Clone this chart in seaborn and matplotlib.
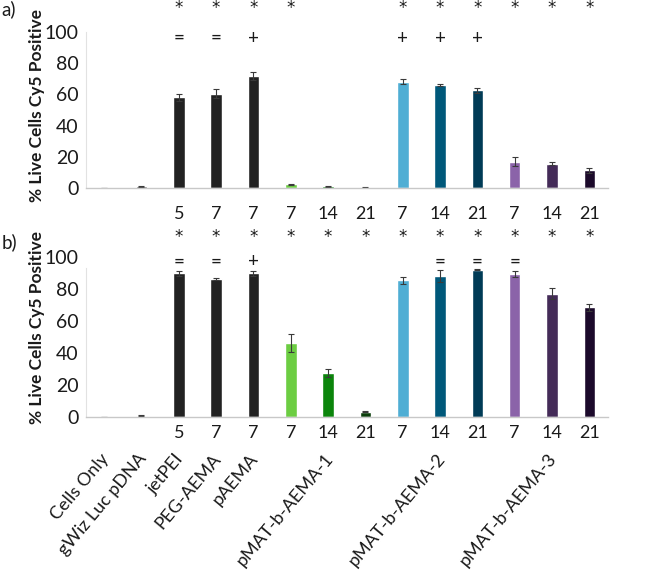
import matplotlib
matplotlib.use("Agg")
import matplotlib.pyplot as plt
import matplotlib.transforms as mtransforms
import seaborn as sns
import pandas as pd
import numpy as np

# ---------------- data ----------------
samples = ["Cells Only", "gWiz Luc pDNA", "jetPEI", "PEG-AEMA", "pAEMA",
           "pMAT1-7", "pMAT1-14", "pMAT1-21",
           "pMAT2-7", "pMAT2-14", "pMAT2-21",
           "pMAT3-7", "pMAT3-14", "pMAT3-21"]
day_labels = ["", "", "5", "7", "7", "7", "14", "21", "7", "14", "21", "7", "14", "21"]
group_labels = ["Cells Only", "gWiz Luc pDNA", "jetPEI", "PEG-AEMA", "pAEMA",
                "", "pMAT-b-AEMA-1", "", "", "pMAT-b-AEMA-2", "", "", "pMAT-b-AEMA-3", ""]

values_a = [0.0, 1.2, 58.0, 60.5, 71.5, 2.5, 1.2, 0.4, 68.0, 66.0, 62.5, 17.0, 15.8, 11.5]
errors_a = [0.0, 0.4, 2.0, 3.0, 2.5, 0.5, 0.3, 0.2, 1.7, 0.8, 1.5, 3.0, 0.7, 1.7]
values_b = [0.0, 0.5, 89.6, 86.1, 89.6, 46.0, 27.3, 3.0, 85.2, 88.0, 91.9, 89.2, 76.9, 68.4]
errors_b = [0.0, 0.3, 1.7, 0.5, 1.7, 5.6, 2.3, 0.3, 2.0, 3.7, 0.3, 1.7, 3.4, 2.1]

stars_a = ["", "", "*", "*", "*", "*", "", "", "*", "*", "*", "*", "*", "*"]
signs_a = ["", "", "=", "=", "+", "", "", "", "+", "+", "+", "", "", ""]
stars_b = ["", "", "*", "*", "*", "*", "*", "*", "*", "*", "*", "*", "*", "*"]
signs_b = ["", "", "=", "=", "+", "", "", "", "", "=", "=", "=", "", ""]

colors = ["#7f7f7f", "#595959", "#222222", "#222222", "#222222",
          "#6ccd42", "#0b850b", "#0b3e0b",
          "#4faed4", "#00587a", "#003b56",
          "#8b63a9", "#442b58", "#1c0a2b"]

ylabel = "% Live Cells Cy5 Positive"

# ---------------- style ----------------
sns.set_theme(style="white")
plt.rcParams["font.family"] = ["Lato", "DejaVu Sans"]

W, H = 668, 571
fig = plt.figure(figsize=(W / 100, H / 100), dpi=100)

left = 85.5 / W
width = (608 - 85.5) / W
ax_a = fig.add_axes([left, 1 - 188.3 / H, width, (188.3 - 31.7) / H])
ax_b = fig.add_axes([left, 1 - 416.7 / H, width, 160.0 / H])

TXT = "#1a1a1a"


def draw(ax, values, errors, stars, signs, star_y, sign_y, spine_top, num_pad):
    df = pd.DataFrame({"sample": samples, "value": values})
    sns.barplot(data=df, x="sample", y="value", hue="sample", order=samples,
                hue_order=samples, palette=colors, legend=False, width=0.31,
                ax=ax, saturation=1, errorbar=None)
    xs = np.arange(len(samples))
    ax.errorbar(xs, values, yerr=errors, fmt="none", ecolor="#3a3a3a",
                elinewidth=0.8, capsize=2.2, capthick=0.8)
    ax.set_xlim(-0.5, len(samples) - 0.5)
    ax.set_ylim(0, 100)
    ax.set_yticks([0, 20, 40, 60, 80, 100])
    ax.tick_params(axis="y", labelsize=14, length=0, pad=5, labelcolor=TXT)
    ax.set_xticks(xs)
    ax.set_xticklabels(day_labels)
    ax.tick_params(axis="x", labelsize=13, length=0, pad=num_pad, labelcolor=TXT)
    ax.set_xlabel("")
    ax.set_ylabel("")
    for s in ["top", "right"]:
        ax.spines[s].set_visible(False)
    ax.spines["bottom"].set_color("#c8c8c8")
    ax.spines["bottom"].set_linewidth(1.0)
    ax.spines["left"].set_color("#e2e2e2")
    ax.spines["left"].set_linewidth(0.8)
    ax.spines["left"].set_bounds(0, spine_top)
    for i in xs:
        if stars[i]:
            ax.text(i, star_y, stars[i], ha="center", va="center", fontsize=12,
                    color=TXT, clip_on=False, family="DejaVu Sans")
        if signs[i]:
            ax.text(i, sign_y, signs[i], ha="center", va="center", fontsize=13.5,
                    color=TXT, clip_on=False)


draw(ax_a, values_a, errors_a, stars_a, signs_a, 115.0, 95.7, 100, 13)
draw(ax_b, values_b, errors_b, stars_b, signs_b, 112.3, 96.7, 92.7, 6)

# rotated group labels under panel b
trans = mtransforms.blended_transform_factory(ax_b.transData, fig.transFigure)
for i, lab in enumerate(group_labels):
    if lab:
        ax_b.text(i + 0.05, 1 - 456 / H, lab, transform=trans, rotation=50,
                  rotation_mode="anchor", ha="right", va="center",
                  fontsize=13, color=TXT)

# y labels
fig.text(37 / W, 1 - 106 / H, ylabel, rotation=90, ha="center", va="center",
         fontsize=12.5, fontweight="bold", color=TXT)
fig.text(37 / W, 1 - 328 / H, ylabel, rotation=90, ha="center", va="center",
         fontsize=12.5, fontweight="bold", color=TXT)

# panel letters
fig.text(1 / W, 1 - 9 / H, "a)", ha="left", va="center", fontsize=13.5, color=TXT)
fig.text(2 / W, 1 - 242 / H, "b)", ha="left", va="center", fontsize=13.5, color=TXT)

fig.savefig("out.png", dpi=100)
